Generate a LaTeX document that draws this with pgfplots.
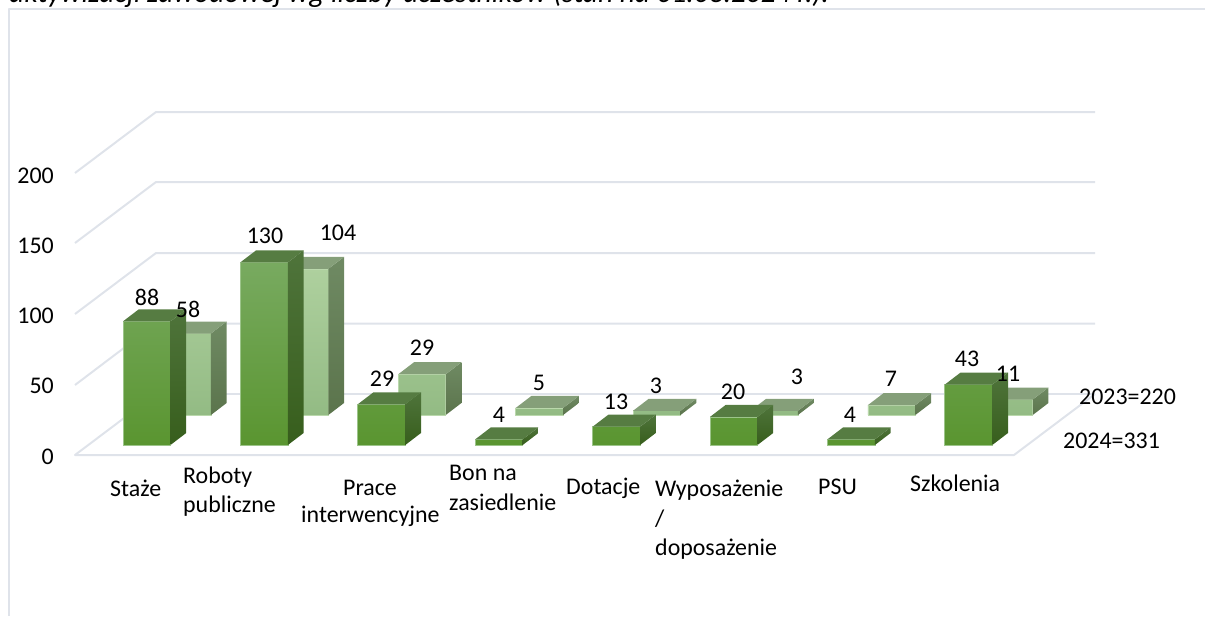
\documentclass[border=0pt]{standalone}
\usepackage{pgfplots}
\usepackage{pgfplotstable}
\usepackage{fontspec}
\setmainfont{Carlito}
\pgfplotsset{compat=1.18}
\definecolor{gridc}{HTML}{DFE3EA}
\definecolor{fTop}{HTML}{78AA60}
\definecolor{fBot}{HTML}{5A9530}
\definecolor{fEdge}{HTML}{9CC48A}
\definecolor{fSideT}{HTML}{4F743B}
\definecolor{fSideB}{HTML}{375E1C}
\definecolor{fRoof}{HTML}{567C42}
\definecolor{lTop}{HTML}{AED09E}
\definecolor{lBot}{HTML}{93BB84}
\definecolor{lEdge}{HTML}{BAD8AC}
\definecolor{lSideT}{HTML}{6F8A63}
\definecolor{lSideB}{HTML}{5B744C}
\definecolor{lRoof}{HTML}{859F79}
% values: y2024 front row, y2023 back row
\pgfplotstableread{
x v
146.75 88
264.15 130
381.55 29
498.95 4
616.35 13
733.75 20
851.15 4
968.55 43
}\tablefront
\pgfplotstableread{
x v
187.2 58
304.6 104
422.0 29
539.4 5
656.8 3
774.2 3
891.6 7
1009.0 11
}\tableback
\newcommand{\sidemark}[4]{%
  \pgfdeclareplotmark{#1}{%
    \pgfmathsetmacro\hh{\val*1.405}%
    \path[draw=none,top color=#2,bottom color=#3] (23.75pt,0pt) -- (39.45pt,12pt) -- (39.45pt,12pt-\hh pt) -- (23.75pt,-\hh pt) -- cycle;
    \path[draw=none,fill=#4] (-23.75pt,0pt) -- (23.75pt,0pt) -- (39.45pt,12pt) -- (-8.05pt,12pt) -- cycle;
  }}
\sidemark{frontside}{fSideT}{fSideB}{fRoof}
\sidemark{backside}{lSideT}{lSideB}{lRoof}
\pgfplotsset{
  canvas/.style={at={(0pt,0pt)},anchor=south west,scale only axis,width=1205pt,height=616pt,
    xmin=0,xmax=1205,clip=false,hide axis},
  px/.style={canvas,ymin=0,ymax=616,y dir=reverse},
  gl/.style={draw=gridc,line width=2pt,no markers,line join=round},
}
\tikzset{lab/.style={font=\fontsize{23.9}{28}\selectfont,inner sep=0pt,text=black}}
\begin{document}
\begin{tikzpicture}
\useasboundingbox (0pt,0pt) rectangle (1205pt,616pt);
% frame and walls
\begin{axis}[px]
\addplot[gl] coordinates {(9,616) (9,9) (1205,9)};
\addplot[gl] coordinates {(75,385) (156,323.7) (1095,323.7)};
\addplot[gl] coordinates {(75,314) (156,253) (1095,253)};
\addplot[gl] coordinates {(75,243) (156,182) (1095,182)};
\addplot[gl] coordinates {(75,173) (156,112) (1095,112)};
\addplot[gl] coordinates {(156,394) (1095,394)};
\addplot[gl] coordinates {(156,394) (75,455) (1014,455) (1095,394)};
\end{axis}
% 2023 series (rear row): zero sits at pixel 415
\begin{axis}[canvas,ymin=-143.06,ymax=295.37]
\addplot[scatter,only marks,mark=backside,draw=none,scatter/use mapped color={draw=none,fill=none},
  visualization depends on={\thisrow{v} \as \val}] table[x=x,y=v] {\tableback};
\addplot[ybar,bar width=47.5pt,bar shift=0pt,top color=lTop,bottom color=lBot,draw=lEdge,line width=0.7pt] table[x=x,y=v] {\tableback};
\end{axis}
% 2024 series (front row): zero sits at pixel 445
\begin{axis}[canvas,ymin=-121.71,ymax=316.73]
\addplot[scatter,only marks,mark=frontside,draw=none,scatter/use mapped color={draw=none,fill=none},
  visualization depends on={\thisrow{v} \as \val}] table[x=x,y=v] {\tablefront};
\addplot[ybar,bar width=47.5pt,bar shift=0pt,top color=fTop,bottom color=fBot,draw=fEdge,line width=0.7pt] table[x=x,y=v] {\tablefront};
\end{axis}
% value axis labels
\begin{axis}[at={(58pt,159.5pt)},anchor=south west,scale only axis,width=40pt,height=281pt,
  xmin=0,xmax=1,ymin=0,ymax=200,ytick={0,50,100,150,200},xtick=\empty,
  axis line style={draw=none},major tick length=0pt,
  yticklabel style={font=\fontsize{23.9}{28}\selectfont,/pgf/number format/assume math mode=true},
  ytick align=outside,axis y line*=left,axis x line=none,tick label style={inner sep=0pt},
  y tick label style={xshift=-4pt}]
\addplot[draw=none] coordinates {(0,0) (1,200)};
\end{axis}
% texts
\begin{axis}[px]
\node[lab,anchor=base west,font=\fontsize{29.4}{32}\selectfont\itshape] at (axis cs:9,2.5) {aktywizacji zawodowej wg liczby uczestników (stan na 01.03.2024 r.).};
\node[lab] at (147,297) {88};
\node[lab] at (188,309) {58};
\node[lab] at (265,236) {130};
\node[lab] at (338,233) {104};
\node[lab] at (382,379) {29};
\node[lab] at (422,348) {29};
\node[lab] at (499,415) {4};
\node[lab] at (539,383) {5};
\node[lab] at (616,402) {13};
\node[lab] at (656,386) {3};
\node[lab] at (733,392) {20};
\node[lab] at (797,377) {3};
\node[lab] at (850,415) {4};
\node[lab] at (891,379) {7};
\node[lab] at (967,359) {43};
\node[lab] at (1008,374) {11};
\node[lab,anchor=west] at (1079,397) {2023=220};
\node[lab,anchor=west] at (1063,441) {2024=331};
\node[lab,anchor=west] at (110,488) {Staże};
\node[lab,anchor=west] at (183,477) {Roboty};
\node[lab,anchor=west] at (183,506) {publiczne};
\node[lab] at (370,488) {Prace};
\node[lab,anchor=west] at (301,516) {interwencyjne};
\node[lab,anchor=west] at (449,473) {Bon na};
\node[lab,anchor=west] at (449,502) {zasiedlenie};
\node[lab,anchor=west] at (566,488) {Dotacje};
\node[lab,anchor=west] at (655,490) {Wyposażenie};
\node[lab,anchor=west] at (655,519) {/};
\node[lab,anchor=west] at (655,549) {doposażenie};
\node[lab,anchor=west] at (818,487) {PSU};
\node[lab,anchor=west] at (910,483) {Szkolenia};
\end{axis}
\end{tikzpicture}
\end{document}
